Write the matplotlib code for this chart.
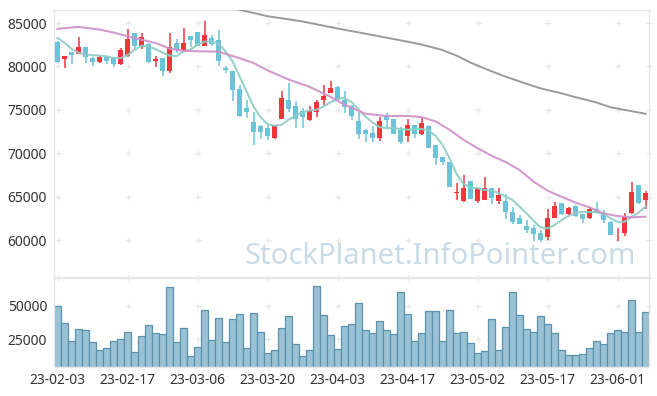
import numpy as np
import pandas as pd
import matplotlib
matplotlib.use('Agg')
import matplotlib.pyplot as plt

plt.rcParams['font.family'] = ['Noto Sans', 'DejaVu Sans']

# trading days (KRX), holidays removed
holidays = ['2023-03-01', '2023-05-01', '2023-05-05', '2023-05-29', '2023-06-06']
days = pd.bdate_range('2023-02-03', '2023-06-08')
days = days[~days.isin(pd.to_datetime(holidays))]
dates = [d.strftime('%y-%m-%d') for d in days]

opens = [82800, 80850, 81650, 81450, 82200, 81000, 80500, 81050, 80950, 80300,
         81200, 83900, 82350, 82600, 80600, 81000, 79500, 82650, 81850, 83550,
         84000, 82350, 83250, 83100, 79850, 79500, 77450, 75250, 73650, 73150,
         72950, 71800, 73950, 76150, 75500, 74900, 73800, 74800, 76150, 76950,
         77650, 76150, 75400, 73750, 72700, 72350, 71750, 74250, 74000, 72650,
         71950, 73250, 72200, 73150, 70950, 69600, 68950, 65400, 64450, 66800,
         64450, 64600, 65950, 64450, 64500, 63250, 62600, 61600, 61400, 60850,
         60300, 62600, 64250, 63000, 63950, 63000, 62500, 63550, 63150, 62100,
         60650, 60850, 63100, 66350, 64600]
highs = [82900, 81200, 81700, 83400, 82200, 81050, 81150, 81250, 81100, 82100,
         84300, 83900, 83800, 82700, 81250, 81000, 83800, 83200, 84450, 83550,
         84000, 85200, 83600, 84250, 80000, 79500, 77900, 76150, 74700, 73300,
         73400, 73300, 77150, 78100, 76000, 75200, 75500, 76100, 77850, 78300,
         77700, 77150, 75600, 74800, 72800, 73150, 74150, 74650, 74000, 73000,
         73950, 73300, 74050, 73200, 70950, 69600, 69000, 66600, 67450, 66800,
         66000, 67300, 66000, 65950, 65300, 63800, 62900, 62300, 61700, 61150,
         63550, 64350, 64300, 63800, 64000, 63050, 63800, 64400, 63500, 62200,
         61450, 63100, 66650, 66350, 65600]
lows = [80400, 79800, 80300, 81400, 80400, 80000, 80350, 80250, 79950, 80200,
        81100, 81900, 82000, 80400, 79950, 78900, 79300, 81550, 81700, 82200,
        82300, 82300, 82400, 80000, 79250, 76000, 74200, 74050, 71000, 71650,
        71550, 71650, 73900, 74700, 72900, 72950, 73700, 74150, 75550, 76900,
        76050, 74650, 73800, 71650, 71350, 71250, 71450, 72900, 72200, 71050,
        71250, 71750, 72100, 70650, 68650, 68650, 66100, 64600, 64400, 64700,
        64300, 64600, 64150, 64150, 62400, 61900, 61800, 60800, 59900, 59800,
        60000, 62550, 62900, 62900, 62700, 61950, 62450, 63100, 62000, 60550,
        59900, 60450, 63000, 64100, 63550]
closes = [80500, 81150, 81350, 82200, 81050, 80500, 81100, 80600, 80300, 81950,
          83200, 82350, 83400, 80500, 80850, 79450, 82250, 81850, 82650, 83100,
          82400, 83650, 82550, 80600, 79550, 77300, 74250, 74800, 72400, 72400,
          72000, 73250, 76350, 75150, 73950, 74150, 74950, 75850, 76650, 77550,
          76250, 75300, 74250, 72200, 72250, 71800, 73750, 73850, 72250, 71300,
          73300, 72250, 73500, 70650, 69500, 69000, 66150, 65500, 65950, 64750,
          65950, 65950, 64800, 65200, 63250, 62100, 61850, 61150, 60700, 60000,
          62600, 63950, 62950, 63750, 62800, 62450, 63550, 63150, 62300, 60600,
          60750, 62700, 65500, 64300, 65400]
volumes = [50000, 37000, 23700, 32500, 31700, 23000, 17000, 18200, 23700, 25000,
           30500, 15500, 27500, 35500, 29700, 29000, 64300, 23000, 33200, 12500,
           19000, 46800, 24500, 40700, 23000, 40000, 44000, 18200, 44700, 30500,
           14700, 17000, 33200, 42200, 21500, 12500, 17000, 65000, 43200, 28000,
           17500, 34700, 36500, 52000, 31700, 29500, 38500, 31700, 29000, 60300,
           44000, 23700, 29500, 46000, 46000, 23700, 46800, 29700, 30500, 22200,
           14700, 16200, 40000, 17000, 34000, 60300, 43200, 32500, 30500, 42200,
           36500, 29500, 17000, 13000, 13000, 13700, 18500, 23700, 21500, 29700,
           31700, 30500, 54300, 30500, 45200]

# moving averages
ma_short = [83290, 82720, 82030, 81560, 81370, 81290, 81250, 81170, 80980, 80950,
            81300, 81900, 82400, 82300, 82000, 81600, 81250, 81200, 81750, 81950,
            82500, 82850, 82900, 82640, 81750, 80600, 78870, 77130, 75400, 74170,
            73360, 73170, 73280, 73860, 74320, 74700, 74930, 75010, 75400, 75860,
            76250, 76370, 75900, 75050, 74240, 73550, 73020, 72900, 72900, 72790,
            72710, 72790, 72790, 72630, 72010, 70970, 69430, 67620, 66470, 66080,
            65970, 65780, 65700, 65420, 65040, 64620, 63850, 63080, 62230, 61470,
            61350, 61730, 62310, 62770, 63150, 63230, 63230, 63230, 63000, 62510,
            62110, 62110, 62690, 63150, 63850]
ma_mid_idx = [0, 3, 6, 8, 11, 14, 16, 18, 20, 23, 26, 28, 30, 33, 36, 39, 41, 44,
              47, 50, 52, 54, 56, 58, 60, 62, 64, 66, 68, 70, 72, 74, 76, 78, 80, 82, 84]
ma_mid = [84330, 84550, 84250, 83900, 83270, 82700, 82060, 81800, 81750, 81700,
          80950, 80400, 79550, 78500, 77650, 76500, 75600, 74550, 74300, 74300,
          74170, 73670, 72710, 71550, 70590, 69720, 69000, 68085, 66740, 65700,
          65000, 64310, 63770, 63080, 62770, 62620, 62690]
ma_long_idx = [24, 26, 30, 35, 40, 45, 50, 52, 55, 57, 59, 62, 64, 67, 69, 72,
               74, 77, 79, 82, 84]
ma_long = [86880, 86530, 85790, 85180, 84370, 83620, 82850, 82520, 81890, 81250,
           80440, 79440, 78830, 78000, 77480, 76900, 76460, 75850, 75300, 74850,
           74550]

price_ticks = [60000, 65000, 70000, 75000, 80000, 85000]
vol_ticks = [25000, 50000]

UP = '#f0353b'
DOWN = '#6cc3d9'
GRID = '#e8e8e8'

W, H = 657, 396
fig = plt.figure(figsize=(W / 100, H / 100), dpi=100)
ax = fig.add_axes([54 / W, (H - 277) / H, 595 / W, 267 / H])
axv = fig.add_axes([54 / W, (H - 367) / H, 595 / W, 89 / H], sharex=ax)

n = len(closes)
x = np.arange(n)

fig.text(636 / W, 1 - 256 / H, 'StockPlanet.InfoPointer.com', ha='right', va='center',
         fontsize=21, color='#c9dbe6', zorder=0)

# candles
for i in range(n):
    c = UP if closes[i] >= opens[i] else DOWN
    ax.vlines(i, lows[i], highs[i], color=c, lw=1.1, zorder=3)
    lo, hi = min(opens[i], closes[i]), max(opens[i], closes[i])
    ax.bar(i, max(hi - lo, 60), bottom=lo, width=0.72, color=c, zorder=3)

ax.plot(x, ma_short, color='#8ecdc5', lw=1.5, alpha=0.9, zorder=4)
ax.plot(ma_mid_idx, ma_mid, color='#cf8fc8', lw=1.5, alpha=0.9, zorder=4)
ax.plot(ma_long_idx, ma_long, color='#9a9a9a', lw=1.4, zorder=4)

ax.set_xlim(-0.5, n - 0.5)
ax.set_ylim(55750, 86500)
ax.set_yticks(price_ticks)
ax.set_yticklabels([str(t) for t in price_ticks])

# volume
axv.bar(x, volumes, width=1.0, color='#9bc2d4', edgecolor='#5b92ad', lw=0.9, zorder=2)
axv.set_ylim(4200, 71000)
axv.set_yticks(vol_ticks)
axv.set_yticklabels([str(t) for t in vol_ticks])
tick_pos = list(range(0, n, 10))
axv.set_xticks(tick_pos)
axv.set_xticklabels([dates[i] for i in tick_pos])

# "+" grid marks
gx = tick_pos + [n - 0.5]
for a, rows in ((ax, price_ticks), (axv, vol_ticks + [71000])):
    gxx, gyy = np.meshgrid(gx, rows)
    a.plot(gxx.ravel(), gyy.ravel(), '+', color=GRID, ms=5, mew=0.9,
           zorder=1, clip_on=False)

for a in (ax, axv):
    for s in a.spines.values():
        s.set_color('#e6e6e6')
        s.set_linewidth(1.0)
    a.tick_params(length=0, labelsize=10, colors='#333333', pad=5)
plt.setp(ax.get_xticklabels(), visible=False)
axv.tick_params(axis='x', pad=4)

fig.savefig('out.png', dpi=100)
